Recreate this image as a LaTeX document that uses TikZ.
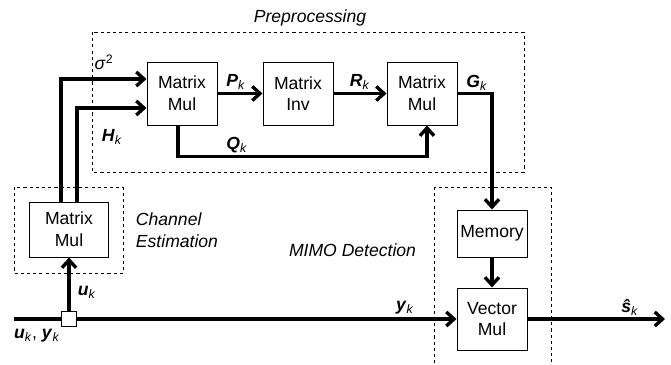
\documentclass[tikz,border=0pt]{standalone}
\usepackage{fontspec}
\setmainfont{Liberation Sans}
\usetikzlibrary{arrows.meta}
\usetikzlibrary{calc}
\usetikzlibrary{positioning}
\newcommand{\bsym}[1]{\textbf{\textit{#1}}\textsubscript{\textit{k}}}

\begin{document}
\begin{tikzpicture}[x=0.025cm,y=0.025cm,line join=miter,
  >={Straight Barb[length=5.5pt,width=10pt]},
  every node/.style={font=\fontsize{12.5pt}{15.4pt}\selectfont},
  block/.style={draw,line width=0.7pt,align=center,inner sep=0pt,fill=white},
  group/.style={draw,line width=0.6pt,dash pattern=on 2.2pt off 2.2pt},
  flow/.style={line width=2.4pt},
  grouplabel/.style={font=\fontsize{12.5pt}{15.4pt}\selectfont\itshape}]
        \useasboundingbox (0,0) rectangle (671,364);
        % groups
        \draw[group] (92,332) rectangle (524,192);
        \node[grouplabel] (prelbl) at (310,346) {Preprocessing};
        \draw[group] (14,177) rectangle (123,91);
        \node[grouplabel,align=left,anchor=west] (chlbl) at (131,134) {Channel\\Estimation};
        \draw[group] (434,177) rectangle (551,-10);
        \node[grouplabel,anchor=east] (mimolbl) at (421,114) {MIMO Detection};
        % blocks
        \node[block,minimum width=1.75cm,minimum height=1.575cm] (mul1) at (182,270.5) {Matrix\\Mul};
        \node[block,minimum width=1.75cm,minimum height=1.575cm] (inv) at (298,270.5) {Matrix\\Inv};
        \node[block,minimum width=1.75cm,minimum height=1.575cm] (mul2) at (422,270.5) {Matrix\\Mul};
        \node[block,minimum width=1.95cm,minimum height=1.375cm] (chmul) at (69,134.5) {Matrix\\Mul};
        \node[block,minimum width=1.75cm,minimum height=1.175cm] (mem) at (492,130.5) {Memory};
        \node[block,minimum width=1.75cm,minimum height=1.55cm] (vmul) at (492,45) {Vector\\Mul};
        \node[block,minimum width=0.375cm,minimum height=0.375cm] (split) at (69,45) {};
        \coordinate (in) at (14,45);
        \coordinate (out) at (665,45);
        % flows
        \draw[flow] (in) -- (split);
        \draw[flow,->] (split) -- (vmul);
        \draw[flow,->] (vmul) -- (out);
        \draw[flow,->] (split) -- (chmul);
        \draw[flow,->] ($(chmul.north)+(-8,0)$) |- ($(mul1.west)+(0,14.5)$);
        \draw[flow,->] ($(chmul.north)+(8,0)$) |- ($(mul1.west)+(0,-14.5)$);
        \draw[flow,->] (mul1) -- (inv);
        \draw[flow,->] (inv) -- (mul2);
        \draw[flow,->] ($(mul1.south)+(-4,0)$) -- ++(0,-31) -| ($(mul2.south)+(5,0)$);
        \draw[flow,->] (mul2.east) -| (mem.north);
        \draw[flow,->] (mem) -- (vmul);
        % labels
        \node (sig) at (104,302) {\textit{σ}\textsuperscript{2}};
        \node (hk) at (112,227) {\bsym{H}};
        \node (pk) at (236,282) {\bsym{P}};
        \node (qk) at (237,219) {\bsym{Q}};
        \node (rk) at (360,282) {\bsym{R}};
        \node (gk) at (477,281) {\bsym{G}};
        \node (uk) at (87,72) {\bsym{u}};
        \node (ukyk) at (37,28) {\bsym{u}, \bsym{y}};
        \node (yk) at (405,56) {\bsym{y}};
        \node (sk) at (630,57) {\bsym{ŝ}};
\end{tikzpicture}
\end{document}
